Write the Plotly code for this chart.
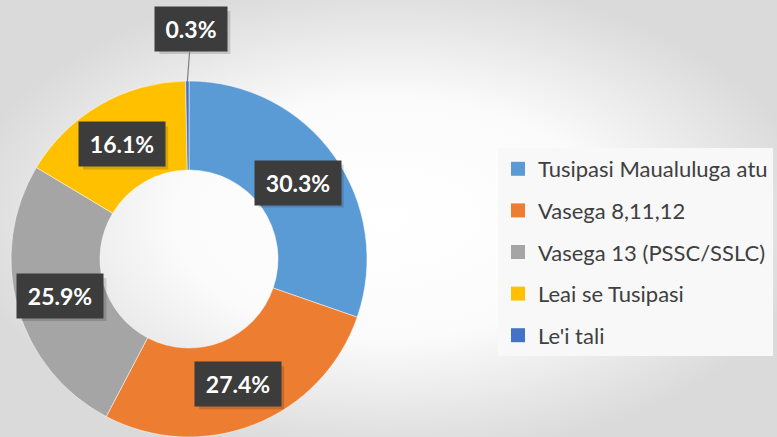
import math
import plotly.graph_objects as go

labels = ["Tusipasi Maualuluga atu", "Vasega 8,11,12", "Vasega 13 (PSSC/SSLC)",
          "Leai se Tusipasi", "Le'i tali"]
values = [30.3, 27.4, 25.9, 16.1, 0.3]
colors = ["#5b9bd5", "#ed7d31", "#a5a5a5", "#ffc000", "#4472c4"]

W, H = 777, 437
# donut geometry in pixels
cx, cy, R = 189, 260, 178
hole = 0.5

fig = go.Figure()

# soft radial background
fig.add_trace(go.Scatter(x=[-0.05, 1.05, 1.05, -0.05, -0.05], y=[-0.05, -0.05, 1.05, 1.05, -0.05],
                         mode="lines", fill="toself", line=dict(width=0),
                         fillgradient=dict(type="radial",
                                           colorscale=[[0, "#ffffff"], [0.5, "#fbfbfb"], [1, "#dadada"]]),
                         hoverinfo="skip", showlegend=False))

fig.add_trace(go.Pie(labels=labels, values=values, hole=hole, sort=False,
                     direction="clockwise", rotation=0, textinfo="none",
                     marker=dict(colors=colors, line=dict(color="white", width=0.5)),
                     domain=dict(x=[(cx - R) / W, (cx + R) / W], y=[0, 2 * R / H]),
                     showlegend=False))

# legend entries
for lab, col in zip(labels, colors):
    fig.add_trace(go.Scatter(x=[None], y=[None], mode="markers", name=lab,
                             legendgroup=lab,
                             marker=dict(symbol="square", size=14, color=col)))

# data labels in dark boxes (with a soft shadow)
total = sum(values)
cum = 0
rmid = R * (1 + hole) / 2
for v in values:
    ang = (cum + v / 2) / total * 2 * math.pi
    cum += v
    txt = f"{v:.1f}%"
    bw, bh = 14 * len(txt) + 14, 42
    box = dict(text=txt, xref="paper", yref="paper", bgcolor="#3c3c3c",
               xanchor="center", yanchor="middle",
               font=dict(family="Lato", size=23, color="white", weight="bold"),
               width=bw, height=bh)
    if v / total < 0.02:
        px_, py_ = cx + R * math.sin(ang), cy - R * math.cos(ang)
        ax, ay = 4, -53
        fig.add_annotation(x=px_ / W, y=1 - py_ / H, ax=ax, ay=ay, showarrow=True,
                           arrowhead=0, arrowwidth=1.2, standoff=0,
                           arrowcolor="#7f7f7f", **box)
        sx, sy = px_ + ax, py_ + ay
    else:
        sx, sy = cx + rmid * math.sin(ang), cy - rmid * math.cos(ang)
        fig.add_annotation(x=sx / W, y=1 - sy / H, showarrow=False, **box)
    fig.add_shape(type="rect", xref="paper", yref="paper", layer="above",
                  xsizemode="pixel", ysizemode="pixel",
                  xanchor=sx / W, yanchor=1 - sy / H,
                  x0=-bw / 2 + 3, x1=bw / 2 + 4, y0=-bh / 2 - 4, y1=bh / 2 - 3,
                  fillcolor="rgba(0,0,0,0.15)", line=dict(width=0))

fig.update_layout(
    width=W, height=H,
    margin=dict(l=0, r=0, t=0, b=0, pad=0, autoexpand=False),
    paper_bgcolor="#eeeeee", plot_bgcolor="rgba(0,0,0,0)",
    xaxis=dict(visible=False, range=[0, 1], fixedrange=True),
    yaxis=dict(visible=False, range=[0, 1], fixedrange=True),
    legend=dict(x=498 / W, y=1 - 148 / H, xanchor="left", yanchor="top",
                bgcolor="#f8f8f8", tracegroupgap=10,
                font=dict(family="Lato", size=22, color="#404040")),
)

fig.write_html("out.html", config={"displayModeBar": False},
               post_script="document.body.style.margin='0';document.body.style.overflow='hidden';")
